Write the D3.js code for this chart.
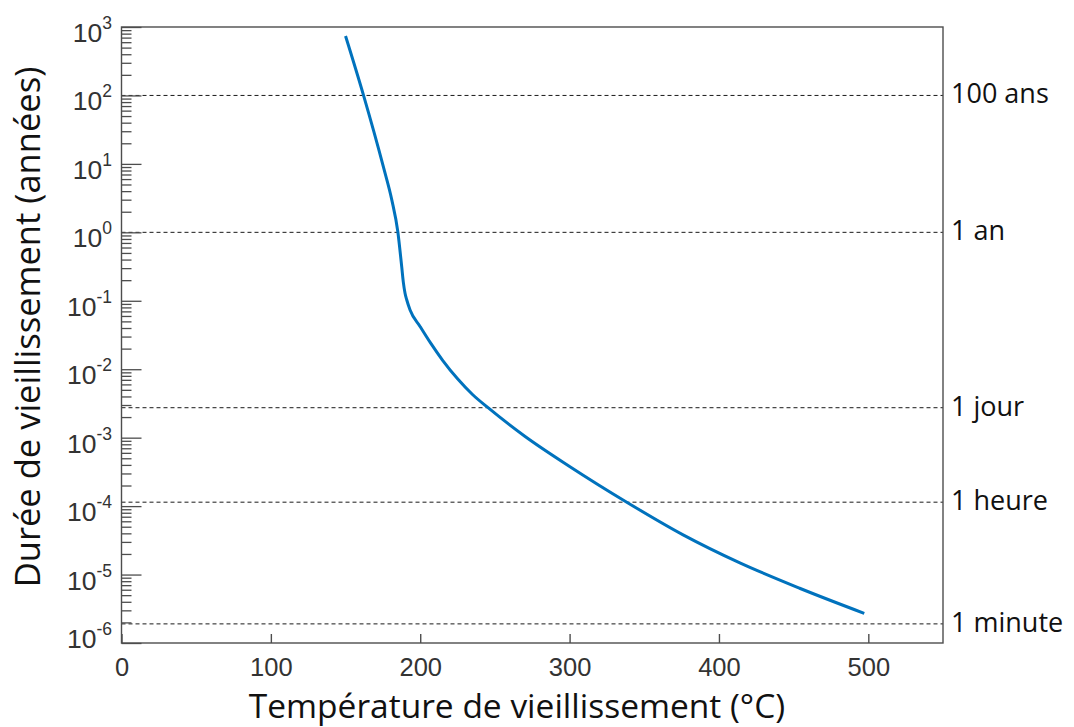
<!DOCTYPE html>
<html>
<head>
<meta charset="utf-8">
<script src="https://cdn.jsdelivr.net/npm/d3@7"></script>
<style>
  html, body { margin: 0; padding: 0; background: #fff; }
  svg { display: block; }
</style>
</head>
<body>
<svg id="chart" width="1074" height="727"></svg>
<script>
// ---- Data ----
const temperature = [150, 162, 175.3, 181, 185, 187.6, 188.7, 189.8, 191, 193.2, 200, 207, 215, 225, 235, 245.4, 270, 300, 338, 376, 414, 454, 497.3];
const agingYears  = [738, 101, 9.1, 2.96, 1.02, 0.315, 0.186, 0.130, 0.1026, 0.0733, 0.0418, 0.0240, 0.0135, 0.00724, 0.00427, 0.00274, 0.00105, 3.80e-4, 1.15e-4, 3.80e-5, 1.48e-5, 6.31e-6, 2.71e-6];

const xTickValues = [0, 100, 200, 300, 400, 500];
const yDecadeExponents = [-6, -5, -4, -3, -2, -1, 0, 1, 2, 3];

const refValues = [100, 1, 1 / 365, 1 / 8760, 1 / 525600];
const refLabels = ["100 ans", "1 an", "1 jour", "1 heure", "1 minute"];

const xTitle = "Température de vieillissement (°C)";
const yTitle = "Durée de vieillissement (années)";

// ---- Layout ----
const plot = { left: 121.5, right: 943, top: 27, bottom: 643 };

const svg = d3.select("#chart");

const x = d3.scaleLinear().domain([0, 550]).range([plot.left, plot.right]);
const y = d3.scaleLog().domain([1e-6, 1e3]).range([plot.bottom, plot.top]);

const axisColor = "#4d4d4d";
const tickFont = "'Liberation Sans', Arial, sans-serif";
const textFont = "'Open Sans', 'Noto Sans', sans-serif";

// reference dashed lines
svg.append("g").selectAll("line").data(refValues).join("line")
  .attr("x1", plot.left).attr("x2", plot.right)
  .attr("y1", d => y(d)).attr("y2", d => y(d))
  .attr("stroke", "#1a1a1a").attr("stroke-width", 1)
  .attr("stroke-dasharray", "4,3");

// curve
const line = d3.line()
  .x((d, i) => x(temperature[i]))
  .y(d => y(d))
  .curve(d3.curveMonotoneX);
svg.append("path")
  .datum(agingYears)
  .attr("d", line)
  .attr("fill", "none")
  .attr("stroke", "#0072BD")
  .attr("stroke-width", 3);

// Box
svg.append("rect")
  .attr("x", plot.left).attr("y", plot.top)
  .attr("width", plot.right - plot.left).attr("height", plot.bottom - plot.top)
  .attr("fill", "none").attr("stroke", axisColor).attr("stroke-width", 1.4);

// X axis ticks (inward) and labels
const xAxis = d3.axisBottom(x).tickValues(xTickValues).tickSize(-9).tickFormat(d3.format("d")).tickPadding(33);
const gx = svg.append("g").attr("transform", `translate(0,${plot.bottom})`).call(xAxis);
gx.select(".domain").remove();
gx.selectAll(".tick line").attr("stroke", axisColor).attr("stroke-width", 1.4);
gx.selectAll(".tick text")
  .attr("fill", "#333").attr("font-family", tickFont).attr("font-size", 25.5)
  .attr("dy", 0);

// Y axis: major and minor ticks (inward)
const minorTicks = [];
yDecadeExponents.slice(0, -1).forEach(e => {
  for (let m = 2; m <= 9; m++) minorTicks.push(m * Math.pow(10, e));
});
const majorTicks = yDecadeExponents.map(e => Math.pow(10, e));

const gyMinor = svg.append("g").attr("transform", `translate(${plot.left},0)`)
  .call(d3.axisLeft(y).tickValues(minorTicks).tickSize(-10).tickFormat(""));
gyMinor.select(".domain").remove();
gyMinor.selectAll(".tick line").attr("stroke", axisColor).attr("stroke-width", 1.3);

const gyMajor = svg.append("g").attr("transform", `translate(${plot.left},0)`)
  .call(d3.axisLeft(y).tickValues(majorTicks).tickSize(-20).tickFormat(""));
gyMajor.select(".domain").remove();
gyMajor.selectAll(".tick line").attr("stroke", axisColor).attr("stroke-width", 1.3);

// Y tick labels: 10^e
const yLab = svg.append("g");
yDecadeExponents.forEach(e => {
  const ty = y(Math.pow(10, e));
  const base = ty + (e === -6 ? 5 : 15);
  const t = yLab.append("text")
    .attr("x", 112).attr("y", base)
    .attr("text-anchor", "end")
    .attr("fill", "#333").attr("font-family", tickFont).attr("font-size", 26.5);
  t.append("tspan").text("10");
  t.append("tspan").attr("dy", -13).attr("font-size", 17.5).text(String(e));
});

// Right-side reference labels
svg.append("g").selectAll("text").data(refValues).join("text")
  .attr("x", 951)
  .attr("y", d => y(d) + 8)
  .attr("fill", "#111").attr("font-family", textFont).attr("font-size", 27)
  .text((d, i) => refLabels[i]);

// Axis titles
svg.append("text")
  .attr("x", 517).attr("y", 718)
  .attr("text-anchor", "middle")
  .attr("fill", "#111").attr("font-family", textFont).attr("font-size", 33.5)
  .text(xTitle);

svg.append("text")
  .attr("transform", `translate(40,327) rotate(-90)`)
  .attr("text-anchor", "middle")
  .attr("fill", "#111").attr("font-family", textFont).attr("font-size", 34.5)
  .text(yTitle);
</script>
</body>
</html>
